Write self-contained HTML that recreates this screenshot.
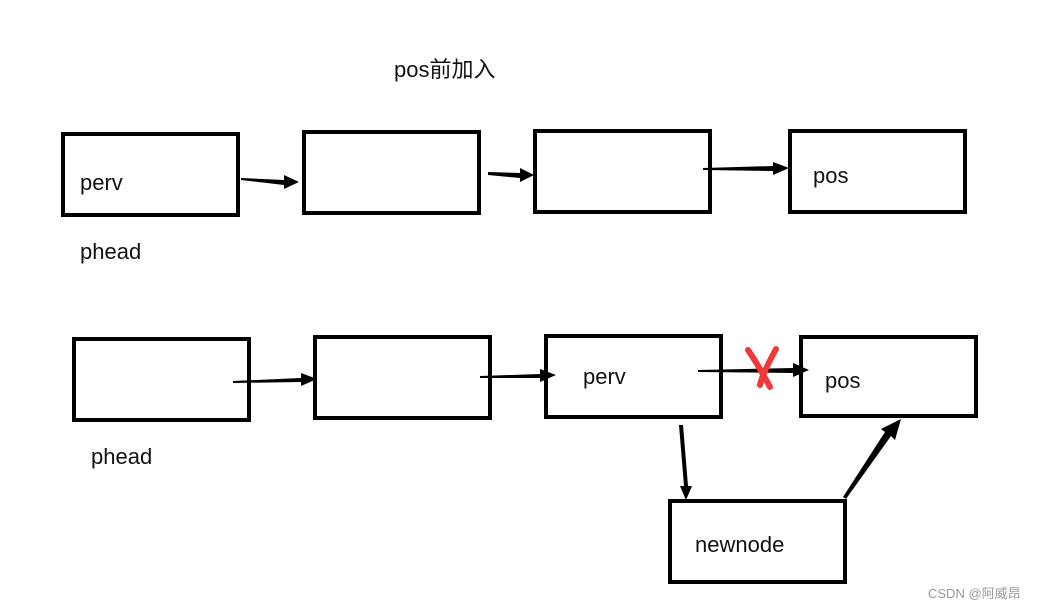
<!DOCTYPE html>
<html><head><meta charset="utf-8"><style>body{margin:0;background:#fff}svg{display:block}</style></head><body>
<svg width="1042" height="608" viewBox="0 0 1042 608" xmlns="http://www.w3.org/2000/svg" font-family="'Liberation Sans','Noto Sans CJK SC',sans-serif">
<g fill="none" stroke="#000" stroke-width="4">
<rect x="63" y="134" width="175" height="81"/>
<rect x="304" y="132" width="175" height="81"/>
<rect x="535" y="131" width="175" height="81"/>
<rect x="790" y="131" width="175" height="81"/>
<rect x="74" y="339" width="175" height="81"/>
<rect x="315" y="337" width="175" height="81"/>
<rect x="546" y="336" width="175" height="81"/>
<rect x="801" y="337" width="175" height="79"/>
<rect x="670" y="501" width="175" height="81"/>
</g>
<g fill="#000">
<polygon points="241,178 284,180 284,175 299,182 284,189 284,185 241,180"/>
<polygon points="488,172 520,173 520,168 534,175 520,182 520,178 488,175"/>
<polygon points="703,168 773,166 773,162 789,168 773,175 773,171 703,170"/>
<polygon points="233,381 301,378 301,373 317,379 301,386 301,382 233,383"/>
<polygon points="480,376 540,374 540,369 556,375 540,382 540,378 480,378"/>
<polygon points="698,370 793,368 793,363 809,370 793,377 793,373 698,372"/>
<polygon points="679,425 683,425 688,486 692,486 686,500 680,486 684,486"/>
<polygon points="843,497 885,432 881,429 901,419 895,440 891,436 846,499"/>
</g>
<path d="M748,350 C755,360 762,372 770,387 M776,349 C770,360 762,375 760,385" stroke="#f03a3a" stroke-width="6" fill="none" stroke-linecap="round"/>
<g font-size="22" fill="#111">
<text x="394" y="77">pos前加入</text>
<text x="80" y="190">perv</text>
<text x="80" y="259">phead</text>
<text x="813" y="183">pos</text>
<text x="91" y="464">phead</text>
<text x="583" y="384">perv</text>
<text x="825" y="388">pos</text>
<text x="695" y="552">newnode</text>
</g>
<text x="928" y="598" font-size="13" fill="#999">CSDN @阿威昂</text>
</svg>
</body></html>
